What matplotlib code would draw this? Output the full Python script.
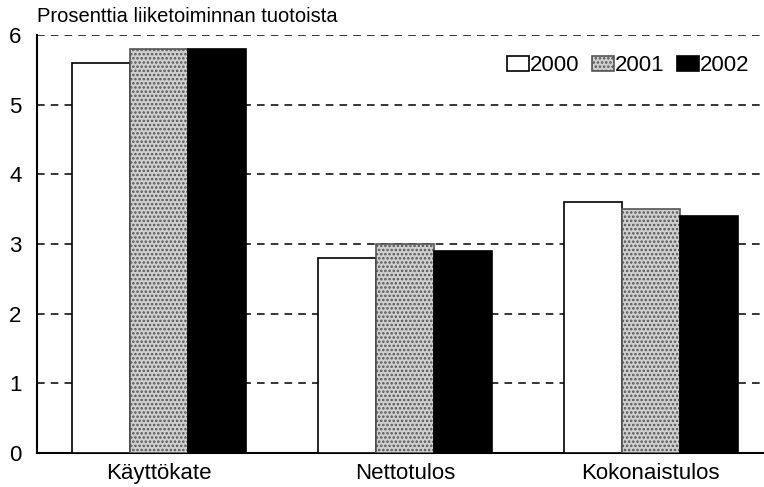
import numpy as np
import matplotlib
matplotlib.use("Agg")
import matplotlib.pyplot as plt

plt.rcParams['font.family'] = ['Liberation Sans', 'DejaVu Sans']
plt.rcParams['hatch.linewidth'] = 1.2

categories = ["Käyttökate", "Nettotulos", "Kokonaistulos"]
years = ["2000", "2001", "2002"]
v2000 = [5.6, 2.8, 3.6]
v2001 = [5.8, 3.0, 3.5]
v2002 = [5.8, 2.9, 3.4]

fig = plt.figure(figsize=(7.64, 4.87), dpi=100)
ax = fig.add_axes([37 / 764, 34 / 487, 727 / 764, 418 / 487])

x = np.arange(len(categories))
w = 0.235

ax.bar(x - w, v2000, w, color="white", edgecolor="black", linewidth=1.2, label=years[0], zorder=3)
ax.bar(x, v2001, w, color="#cfcfcf", edgecolor="#555555", hatch="....", linewidth=1.2, label=years[1], zorder=3)
ax.bar(x + w, v2002, w, color="black", edgecolor="black", linewidth=1.2, label=years[2], zorder=3)

ax.set_xlim(-0.496, 2.46)
ax.set_ylim(0, 6)
ax.set_yticks(range(0, 7))
ax.set_xticks(x)
ax.set_xticklabels(categories)
ax.tick_params(length=0, labelsize=16, pad=7)
ax.tick_params(axis="y", pad=11)

for y in range(1, 7):
    ax.axhline(y, color="black", linestyle=(0, (5, 4)), linewidth=1.1, zorder=1)

ax.spines["top"].set_visible(False)
ax.spines["right"].set_visible(False)
ax.spines["left"].set_linewidth(1.5)
ax.spines["bottom"].set_linewidth(1.5)

fig.text(37 / 764, 1 - 17 / 487, "Prosenttia liiketoiminnan tuotoista", fontsize=14.5, va="center", ha="left")

ax.legend(loc="upper right", bbox_to_anchor=(1.008, 1.0), ncol=3, frameon=False,
          fontsize=16, handlelength=1.0, handleheight=0.65, handletextpad=0.05, columnspacing=0.55)

fig.savefig("out.png", dpi=100)
